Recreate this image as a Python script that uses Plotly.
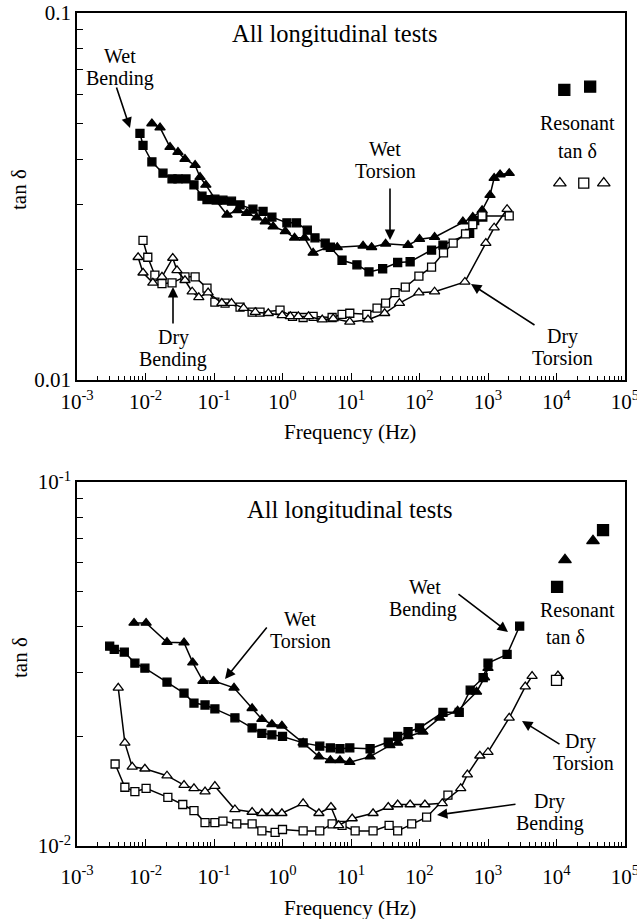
import plotly.graph_objects as go

# ---------------- data: top panel ----------------
wet_bend_top_f = [0.0083, 0.0092, 0.0124, 0.018, 0.0244, 0.0298, 0.039, 0.051, 0.0668, 0.079, 0.103, 0.135,
                  0.18, 0.24, 0.37, 0.52, 0.70, 1.16, 1.6, 2.3, 2.98, 4.2, 5.0, 7.4, 12.2, 18.3, 29, 48, 73,
                  150, 220, 540, 640, 840]
wet_bend_top_v = [0.047, 0.0436, 0.0393, 0.0366, 0.0353, 0.0353, 0.0353, 0.034, 0.0317, 0.031, 0.0311, 0.0309,
                  0.0307, 0.030, 0.0292, 0.0288, 0.0278, 0.0268, 0.0268, 0.0256, 0.0244, 0.0236, 0.0230, 0.0212,
                  0.0206, 0.0197, 0.0201, 0.0209, 0.021, 0.0226, 0.0233, 0.0251, 0.0272, 0.0278]

wet_tor_top_f = [0.0124, 0.0163, 0.0228, 0.0298, 0.0377, 0.053, 0.0625, 0.076, 0.11, 0.155, 0.22, 0.30, 0.42,
                 0.56, 0.73, 1.1, 1.5, 2.1, 2.8, 4.6, 6.3, 15, 20, 32, 68, 100, 166, 430, 600, 820, 1070, 1230,
                 1500, 2040]
wet_tor_top_v = [0.050, 0.0487, 0.0431, 0.0418, 0.040, 0.0385, 0.0357, 0.034, 0.0306, 0.0282, 0.029, 0.0285,
                 0.0277, 0.027, 0.0262, 0.0254, 0.0244, 0.0244, 0.0222, 0.023, 0.023, 0.0232, 0.023, 0.0235,
                 0.0233, 0.0242, 0.0245, 0.027, 0.0278, 0.029, 0.0319, 0.0355, 0.0363, 0.0366]

dry_bend_top_f = [0.0092, 0.0108, 0.0137, 0.0174, 0.0244, 0.0377, 0.053, 0.079, 0.103, 0.145, 0.24, 0.36, 0.47,
                  0.92, 1.4, 2.0, 2.8, 5.3, 7.4, 9.6, 17, 24, 32, 44, 62, 98, 150, 224, 310, 470, 600, 820, 2040]
dry_bend_top_v = [0.024, 0.0216, 0.0193, 0.0183, 0.0184, 0.0191, 0.0191, 0.0178, 0.0163, 0.0162, 0.0158, 0.0153,
                  0.0153, 0.0155, 0.0149, 0.0148, 0.0149, 0.0148, 0.0151, 0.0152, 0.0151, 0.0157, 0.0162, 0.0173,
                  0.0179, 0.0192, 0.0203, 0.0222, 0.0236, 0.025, 0.0265, 0.028, 0.028]

dry_tor_top_f = [0.0078, 0.0092, 0.0128, 0.0174, 0.025, 0.0288, 0.0377, 0.048, 0.06, 0.082, 0.13, 0.18, 0.27,
                 0.40, 0.62, 0.99, 1.3, 1.7, 2.4, 3.8, 5.5, 9.6, 17.7, 31, 51, 98, 166, 460, 930, 1230, 1900]
dry_tor_top_v = [0.0216, 0.0196, 0.0184, 0.0191, 0.0215, 0.0199, 0.0187, 0.0174, 0.0168, 0.0173, 0.0162, 0.0162,
                 0.0157, 0.0153, 0.0152, 0.015, 0.0149, 0.0149, 0.0149, 0.0146, 0.0147, 0.0144, 0.0146, 0.0152,
                 0.0162, 0.0173, 0.0174, 0.0185, 0.0236, 0.026, 0.0292]

res_top_fsq_f = [13000, 31000]
res_top_fsq_v = [0.0617, 0.063]
res_top_otri_f = [11200, 49000]
res_top_otri_v = [0.0344, 0.0344]
res_top_osq_f = [25000]
res_top_osq_v = [0.0344]

# ---------------- data: bottom panel ----------------
wet_tor_bot_f = [0.0068, 0.0102, 0.0206, 0.0365, 0.049, 0.069, 0.10, 0.196, 0.36, 0.50, 0.70, 0.98, 2.0, 3.4,
                 5.0, 6.9, 9.6, 19, 37, 48, 68, 112, 198, 360, 680, 890, 1000]
wet_tor_bot_v = [0.041, 0.041, 0.0363, 0.0362, 0.0319, 0.0284, 0.0284, 0.0272, 0.0239, 0.0223, 0.0216, 0.0214,
                 0.0192, 0.0176, 0.0172, 0.0172, 0.017, 0.0176, 0.0189, 0.0192, 0.020, 0.0206, 0.0225, 0.0235,
                 0.0265, 0.029, 0.0308]

wet_bend_bot_f = [0.0030, 0.0035, 0.0049, 0.0070, 0.0098, 0.0206, 0.0365, 0.051, 0.074, 0.103, 0.202, 0.36,
                  0.50, 0.70, 1.0, 2.0, 3.5, 5.0, 6.9, 9.6, 19, 35, 48, 68, 100, 220, 380, 550, 850, 1000, 1900,
                  2900]
wet_bend_bot_v = [0.0354, 0.0347, 0.0341, 0.0318, 0.0308, 0.0282, 0.0263, 0.0247, 0.0244, 0.0238, 0.0225,
                  0.0211, 0.0204, 0.0202, 0.020, 0.0192, 0.0188, 0.0186, 0.0185, 0.0186, 0.0185, 0.0193, 0.020,
                  0.0206, 0.0211, 0.0233, 0.0233, 0.0268, 0.029, 0.0318, 0.0336, 0.0402]

dry_tor_bot_f = [0.0040, 0.0050, 0.0064, 0.0098, 0.0206, 0.0365, 0.051, 0.074, 0.103, 0.202, 0.36, 0.50, 0.70,
                 0.98, 2.0, 3.4, 5.1, 6.6, 10.4, 21, 35, 48, 73, 120, 215, 400, 500, 760, 1000, 2040, 3500, 4400]
dry_tor_bot_v = [0.0272, 0.0192, 0.0165, 0.0163, 0.0156, 0.0147, 0.0144, 0.0141, 0.0146, 0.0126, 0.0124, 0.0123,
                 0.0123, 0.0123, 0.0131, 0.0123, 0.0128, 0.0114, 0.0119, 0.0123, 0.0128, 0.0130, 0.013, 0.013,
                 0.0131, 0.0144, 0.0157, 0.0177, 0.0181, 0.0225, 0.0274, 0.0293]

dry_bend_bot_f = [0.0036, 0.0050, 0.0070, 0.0102, 0.0212, 0.035, 0.051, 0.074, 0.103, 0.135, 0.215, 0.36, 0.50,
                  0.78, 1.0, 2.0, 3.5, 5.3, 7.4, 11.5, 21, 36, 48, 77, 127, 260]
dry_bend_bot_v = [0.0168, 0.0145, 0.0141, 0.0144, 0.0136, 0.0130, 0.0125, 0.0116, 0.0116, 0.0117, 0.0115, 0.0115,
                  0.0110, 0.0109, 0.0111, 0.011, 0.011, 0.0115, 0.0114, 0.011, 0.011, 0.0114, 0.011, 0.0115,
                  0.012, 0.0138]

res_bot_fsq_f = [10200, 47800]
res_bot_fsq_v = [0.0515, 0.0738]
res_bot_ftri_f = [13300, 34100]
res_bot_ftri_v = [0.0611, 0.0689]
res_bot_otri_f = [10500]
res_bot_otri_v = [0.0293]
res_bot_osq_f = [10000]
res_bot_osq_v = [0.0285]

x_tick_vals = [1e-3, 1e-2, 1e-1, 1e0, 1e1, 1e2, 1e3, 1e4, 1e5]
x_tick_text = ["10<sup>-3</sup>", "10<sup>-2</sup>", "10<sup>-1</sup>", "10<sup>0</sup>", "10<sup>1</sup>",
               "10<sup>2</sup>", "10<sup>3</sup>", "10<sup>4</sup>", "10<sup>5</sup>"]
y_top_tick_text = ["0.01", "0.1"]
y_bot_tick_text = ["10<sup>-2</sup>", "10<sup>-1</sup>"]

# ---------------- figure ----------------
W, H = 637, 919
FONT = "Liberation Serif, Tinos, Times New Roman, DejaVu Serif, serif"
LBL = 20


def px(x):
    return x / W


def py(y):
    return 1 - y / H


fig = go.Figure()


def add_series(f, v, sym, filled, xa, ya, lines=True, size=8):
    fig.add_trace(go.Scatter(
        x=f, y=v, xaxis=xa, yaxis=ya,
        mode="lines+markers" if lines else "markers",
        line=dict(color="black", width=1.5),
        marker=dict(symbol=sym, size=size,
                    color="black" if filled else "white",
                    line=dict(color="black", width=1.3)),
        showlegend=False, hoverinfo="skip"))


# top
add_series(wet_bend_top_f, wet_bend_top_v, "square", True, "x", "y")
add_series(wet_tor_top_f, wet_tor_top_v, "triangle-up", True, "x", "y", size=9)
add_series(dry_bend_top_f, dry_bend_top_v, "square", False, "x", "y")
add_series(dry_tor_top_f, dry_tor_top_v, "triangle-up", False, "x", "y", size=9)
add_series(res_top_fsq_f, res_top_fsq_v, "square", True, "x", "y", lines=False, size=11)
add_series(res_top_otri_f, res_top_otri_v, "triangle-up", False, "x", "y", lines=False, size=11)
add_series(res_top_osq_f, res_top_osq_v, "square", False, "x", "y", lines=False, size=10)

# bottom
add_series(wet_bend_bot_f, wet_bend_bot_v, "square", True, "x2", "y2")
add_series(wet_tor_bot_f, wet_tor_bot_v, "triangle-up", True, "x2", "y2", size=9)
add_series(dry_bend_bot_f, dry_bend_bot_v, "square", False, "x2", "y2")
add_series(dry_tor_bot_f, dry_tor_bot_v, "triangle-up", False, "x2", "y2", size=9)
add_series(res_bot_fsq_f, res_bot_fsq_v, "square", True, "x2", "y2", lines=False, size=11)
add_series(res_bot_ftri_f, res_bot_ftri_v, "triangle-up", True, "x2", "y2", lines=False, size=11)
add_series(res_bot_otri_f, res_bot_otri_v, "triangle-up", False, "x2", "y2", lines=False, size=10)
add_series(res_bot_osq_f, res_bot_osq_v, "square", False, "x2", "y2", lines=False, size=10)

x_minor = [m * 10.0 ** e for e in range(-3, 5) for m in range(2, 10)]
y_minor = [m * 0.01 for m in range(2, 10)]

xdom = [px(77), px(625)]


def xaxis(anchor, standoff):
    return dict(type="log", range=[-3, 5], domain=xdom, anchor=anchor,
                showline=True, linecolor="black", linewidth=1.5, mirror=True,
                ticks="inside", ticklen=7, tickwidth=1.3, tickcolor="black",
                tickmode="array", tickvals=x_tick_vals, ticktext=x_tick_text,
                tickfont=dict(family=FONT, size=21, color="black"),
                ticklabelstandoff=standoff, ticklabeloverflow="allow",
                minor=dict(ticks="inside", ticklen=4, tickwidth=1, tickcolor="black",
                           tickmode="array", tickvals=x_minor),
                showgrid=False, zeroline=False, automargin=False)


def yaxis(anchor, dom, ttext):
    return dict(type="log", range=[-2, -1], domain=dom, anchor=anchor,
                showline=True, linecolor="black", linewidth=1.5, mirror=True,
                ticks="inside", ticklen=8, tickwidth=1.3, tickcolor="black",
                tickmode="array", tickvals=[0.01, 0.1], ticktext=ttext,
                tickfont=dict(family=FONT, size=21, color="black"),
                ticklabeloverflow="allow",
                minor=dict(ticks="inside", ticklen=6, tickwidth=1.2, tickcolor="black",
                           tickmode="array", tickvals=y_minor),
                showgrid=False, zeroline=False, automargin=False)


fig.update_layout(
    width=W, height=H, margin=dict(l=0, r=0, t=0, b=0, pad=0, autoexpand=False),
    font=dict(family=FONT, color="black"),
    paper_bgcolor="white", plot_bgcolor="white",
    xaxis=xaxis("y", 2),
    yaxis=yaxis("x", [py(380), py(13)], y_top_tick_text),
    xaxis2=xaxis("y2", 11),
    yaxis2=yaxis("x2", [py(846), py(482)], y_bot_tick_text),
)

annotations = []


def text(t, x, y, size=LBL, angle=0):
    annotations.append(dict(text=t, x=px(x), y=py(y), xref="paper", yref="paper",
                            xanchor="center", yanchor="middle", showarrow=False,
                            textangle=angle,
                            font=dict(family=FONT, size=size, color="black")))


def arrow(tail, tip):
    annotations.append(dict(text="", x=px(tip[0]), y=py(tip[1]), xref="paper", yref="paper",
                            ax=tail[0] - tip[0], ay=tail[1] - tip[1], axref="pixel", ayref="pixel",
                            showarrow=True, arrowhead=2, arrowsize=1.3, arrowwidth=1.6,
                            arrowcolor="black", standoff=0))


# top panel texts
text("All longitudinal tests", 335, 33, size=24.5)
text("Wet", 120, 56)
text("Bending", 120, 78)
text("Wet", 385, 149)
text("Torsion", 385, 171)
text("Dry", 173, 337)
text("Bending", 173, 359)
text("Dry", 562, 336)
text("Torsion", 562, 358)
text("Resonant", 577, 123)
text("tan δ", 577, 151)
text("tan δ", 19, 190, size=21, angle=-90)
text("Frequency (Hz)", 350, 432, size=21)
arrow((116, 86), (130, 128))
arrow((390, 187), (390, 240))
arrow((173, 325), (173, 287))
arrow((536, 326), (471, 284))

# bottom panel texts
text("All longitudinal tests", 350, 510, size=24.5)
text("Wet", 300, 619)
text("Torsion", 300, 641)
text("Wet", 425, 587)
text("Bending", 423, 609)
text("Resonant", 577, 610)
text("tan δ", 565, 637)
text("Dry", 580, 741)
text("Torsion", 583, 763)
text("Dry", 549, 801)
text("Bending", 550, 823)
text("tan δ", 20, 658, size=21, angle=-90)
text("Frequency (Hz)", 350, 908, size=21)
arrow((268, 626), (225, 679))
arrow((457, 593), (508, 632))
arrow((561, 745), (522, 721))
arrow((517, 804), (437, 815))

fig.update_layout(annotations=annotations)
fig.write_html("out.html", config={"displayModeBar": False},
               post_script="document.body.style.margin='0px';document.body.style.padding='0px';")
